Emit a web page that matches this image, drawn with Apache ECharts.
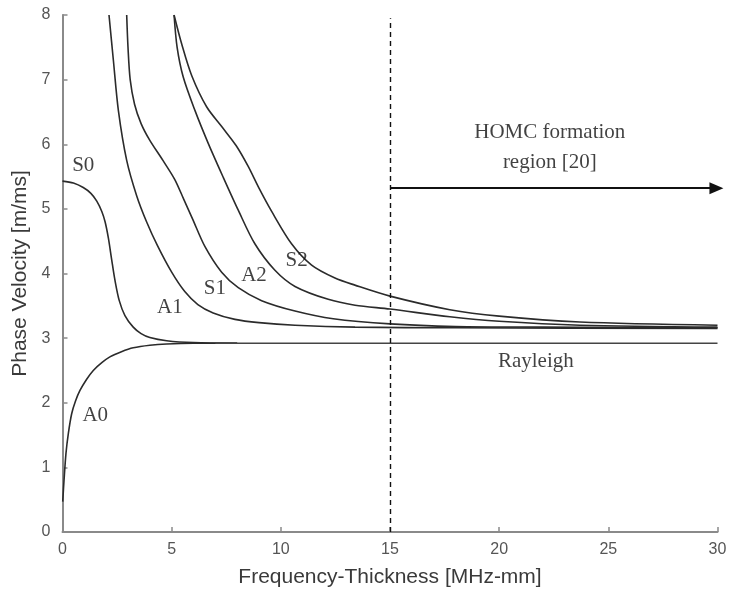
<!DOCTYPE html>
<html><head><meta charset="utf-8">
<script src="https://cdn.jsdelivr.net/npm/echarts@6/dist/echarts.min.js"></script>
<style>html,body{margin:0;padding:0;background:#fff}#c{width:731px;height:599px}</style>
</head><body><div id="c"></div>
<script>
// Dispersion curves [frequency-thickness MHz-mm, phase velocity m/ms]
const A0 = [[0.01,0.47],[0.07,0.8],[0.16,1.22],[0.27,1.53],[0.42,1.83],[0.6,2.03],[0.8,2.19],[1.1,2.36],[1.41,2.5],[1.8,2.62],[2.17,2.71],[2.7,2.79],[3.24,2.85],[4.0,2.89],[4.77,2.91],[6,2.92],[8,2.92]];
const S0 = [[0,5.43],[0.5,5.4],[0.95,5.33],[1.3,5.24],[1.57,5.12],[1.8,4.96],[1.95,4.8],[2.1,4.55],[2.25,4.22],[2.4,3.9],[2.6,3.58],[2.86,3.35],[3.24,3.17],[3.6,3.07],[4.0,3.01],[4.77,2.96],[6,2.93],[8,2.92]];
const A1 = [[2.13,8],[2.33,7.3],[2.56,6.52],[2.94,5.75],[3.4,5.2],[3.85,4.8],[4.35,4.43],[5.0,4.02],[5.6,3.72],[6.2,3.52],[6.9,3.39],[7.9,3.29],[9.0,3.24],[10.65,3.2],[13.4,3.17],[18,3.16],[30,3.15]];
const S1 = [[2.94,8],[3.0,7.5],[3.1,7.0],[3.3,6.62],[3.6,6.32],[4.0,6.06],[4.6,5.75],[5.15,5.45],[5.55,5.15],[5.95,4.85],[6.52,4.42],[7.29,4.02],[8.05,3.78],[9.12,3.58],[10.65,3.42],[12.4,3.3],[15,3.22],[18,3.18],[22,3.17],[30,3.16]];
const A2 = [[5.11,8],[5.25,7.5],[5.53,7.04],[6.07,6.52],[6.68,6.01],[7.36,5.49],[8.05,4.98],[8.81,4.46],[9.73,4.05],[10.65,3.8],[12.17,3.6],[13.4,3.51],[15,3.45],[17.74,3.33],[20,3.26],[23.7,3.2],[30,3.17]];
const S2 = [[5.11,8],[5.46,7.55],[5.92,7.06],[6.6,6.58],[7.3,6.27],[7.95,5.98],[8.5,5.66],[9.0,5.32],[9.58,4.96],[10.49,4.46],[11.41,4.13],[12.48,3.93],[13.39,3.82],[15,3.65],[17.74,3.44],[20,3.34],[23.7,3.25],[30,3.2]];
const rayleigh = [[7,2.92],[30,2.92]];
const labels = [
  {name:'S0', value:[0.95,5.67]},
  {name:'A0', value:[1.5,1.81]},
  {name:'A1', value:[4.92,3.48]},
  {name:'S1', value:[6.98,3.77]},
  {name:'A2', value:[8.77,3.97]},
  {name:'S2', value:[10.72,4.2]},
  {name:'Rayleigh', value:[21.68,2.64]},
  {name:'HOMC formation', value:[22.32,6.18]},
  {name:'region [20]', value:[22.32,5.72]}
];
const xTicks = {min:0, max:30, interval:5};
const yTicks = {min:0, max:8, interval:1};
const homcLine = 15, arrowY = 5.32, arrowEnd = 29.95;

const chart = echarts.init(document.getElementById('c'));
const curveStyle = {color:'#2b2b2b', width:1.6};
function curve(name, data){
  return {name, type:'line', data, smooth:0.3, showSymbol:false, symbol:'none', lineStyle:curveStyle, z:3, animation:false};
}
const axisCommon = {
  axisLine:{show:true, lineStyle:{color:'#8a8a8a', width:2}},
  axisTick:{show:true, inside:true, length:5, lineStyle:{color:'#8a8a8a', width:1.5}},
  splitLine:{show:false},
  axisLabel:{color:'#555', fontSize:16, fontFamily:'Liberation Sans, Arial, sans-serif'},
  nameTextStyle:{color:'#3a3a3a', fontSize:21, fontFamily:'Liberation Sans, Arial, sans-serif'}
};
chart.setOption({
  animation:false,
  backgroundColor:'#fff',
  grid:{left:62.5, right:13.5, top:15, bottom:67, containLabel:false},
  xAxis:Object.assign({type:'value', min:xTicks.min, max:xTicks.max, interval:xTicks.interval,
    name:'Frequency-Thickness [MHz-mm]', nameLocation:'middle', nameGap:35}, axisCommon,
    {axisLabel:Object.assign({}, axisCommon.axisLabel, {margin:10})}),
  yAxis:Object.assign({type:'value', min:yTicks.min, max:yTicks.max, interval:yTicks.interval,
    name:'Phase Velocity [m/ms]', nameLocation:'middle', nameGap:30}, axisCommon,
    {axisLabel:Object.assign({}, axisCommon.axisLabel, {margin:12})}),
  series:[
    curve('A0', A0), curve('S0', S0), curve('A1', A1), curve('S1', S1), curve('A2', A2), curve('S2', S2),
    {name:'Rayleigh', type:'line', data:rayleigh, showSymbol:false, symbol:'none', lineStyle:{color:'#444', width:1.6}, z:3,
     markLine:{silent:true, symbol:'none', animation:false, label:{show:false},
       lineStyle:{color:'#111', type:[5,4], width:1.4},
       data:[[{coord:[homcLine,0]},{coord:[homcLine,7.95]}]]}},
    {name:'arrow', type:'line', data:[], markLine:{silent:true, animation:false, symbol:['none','triangle'], symbolSize:[12,14], label:{show:false},
       lineStyle:{color:'#111', type:'solid', width:2},
       data:[[{coord:[homcLine,arrowY]},{coord:[arrowEnd,arrowY]}]]}},
    {name:'labels', type:'scatter', data:labels, symbolSize:0, z:5,
     label:{show:true, position:'inside', formatter:p=>p.name, color:'#111', fontSize:21, fontFamily:'Liberation Serif, Times New Roman, serif'}}
  ]
});
</script></body></html>
